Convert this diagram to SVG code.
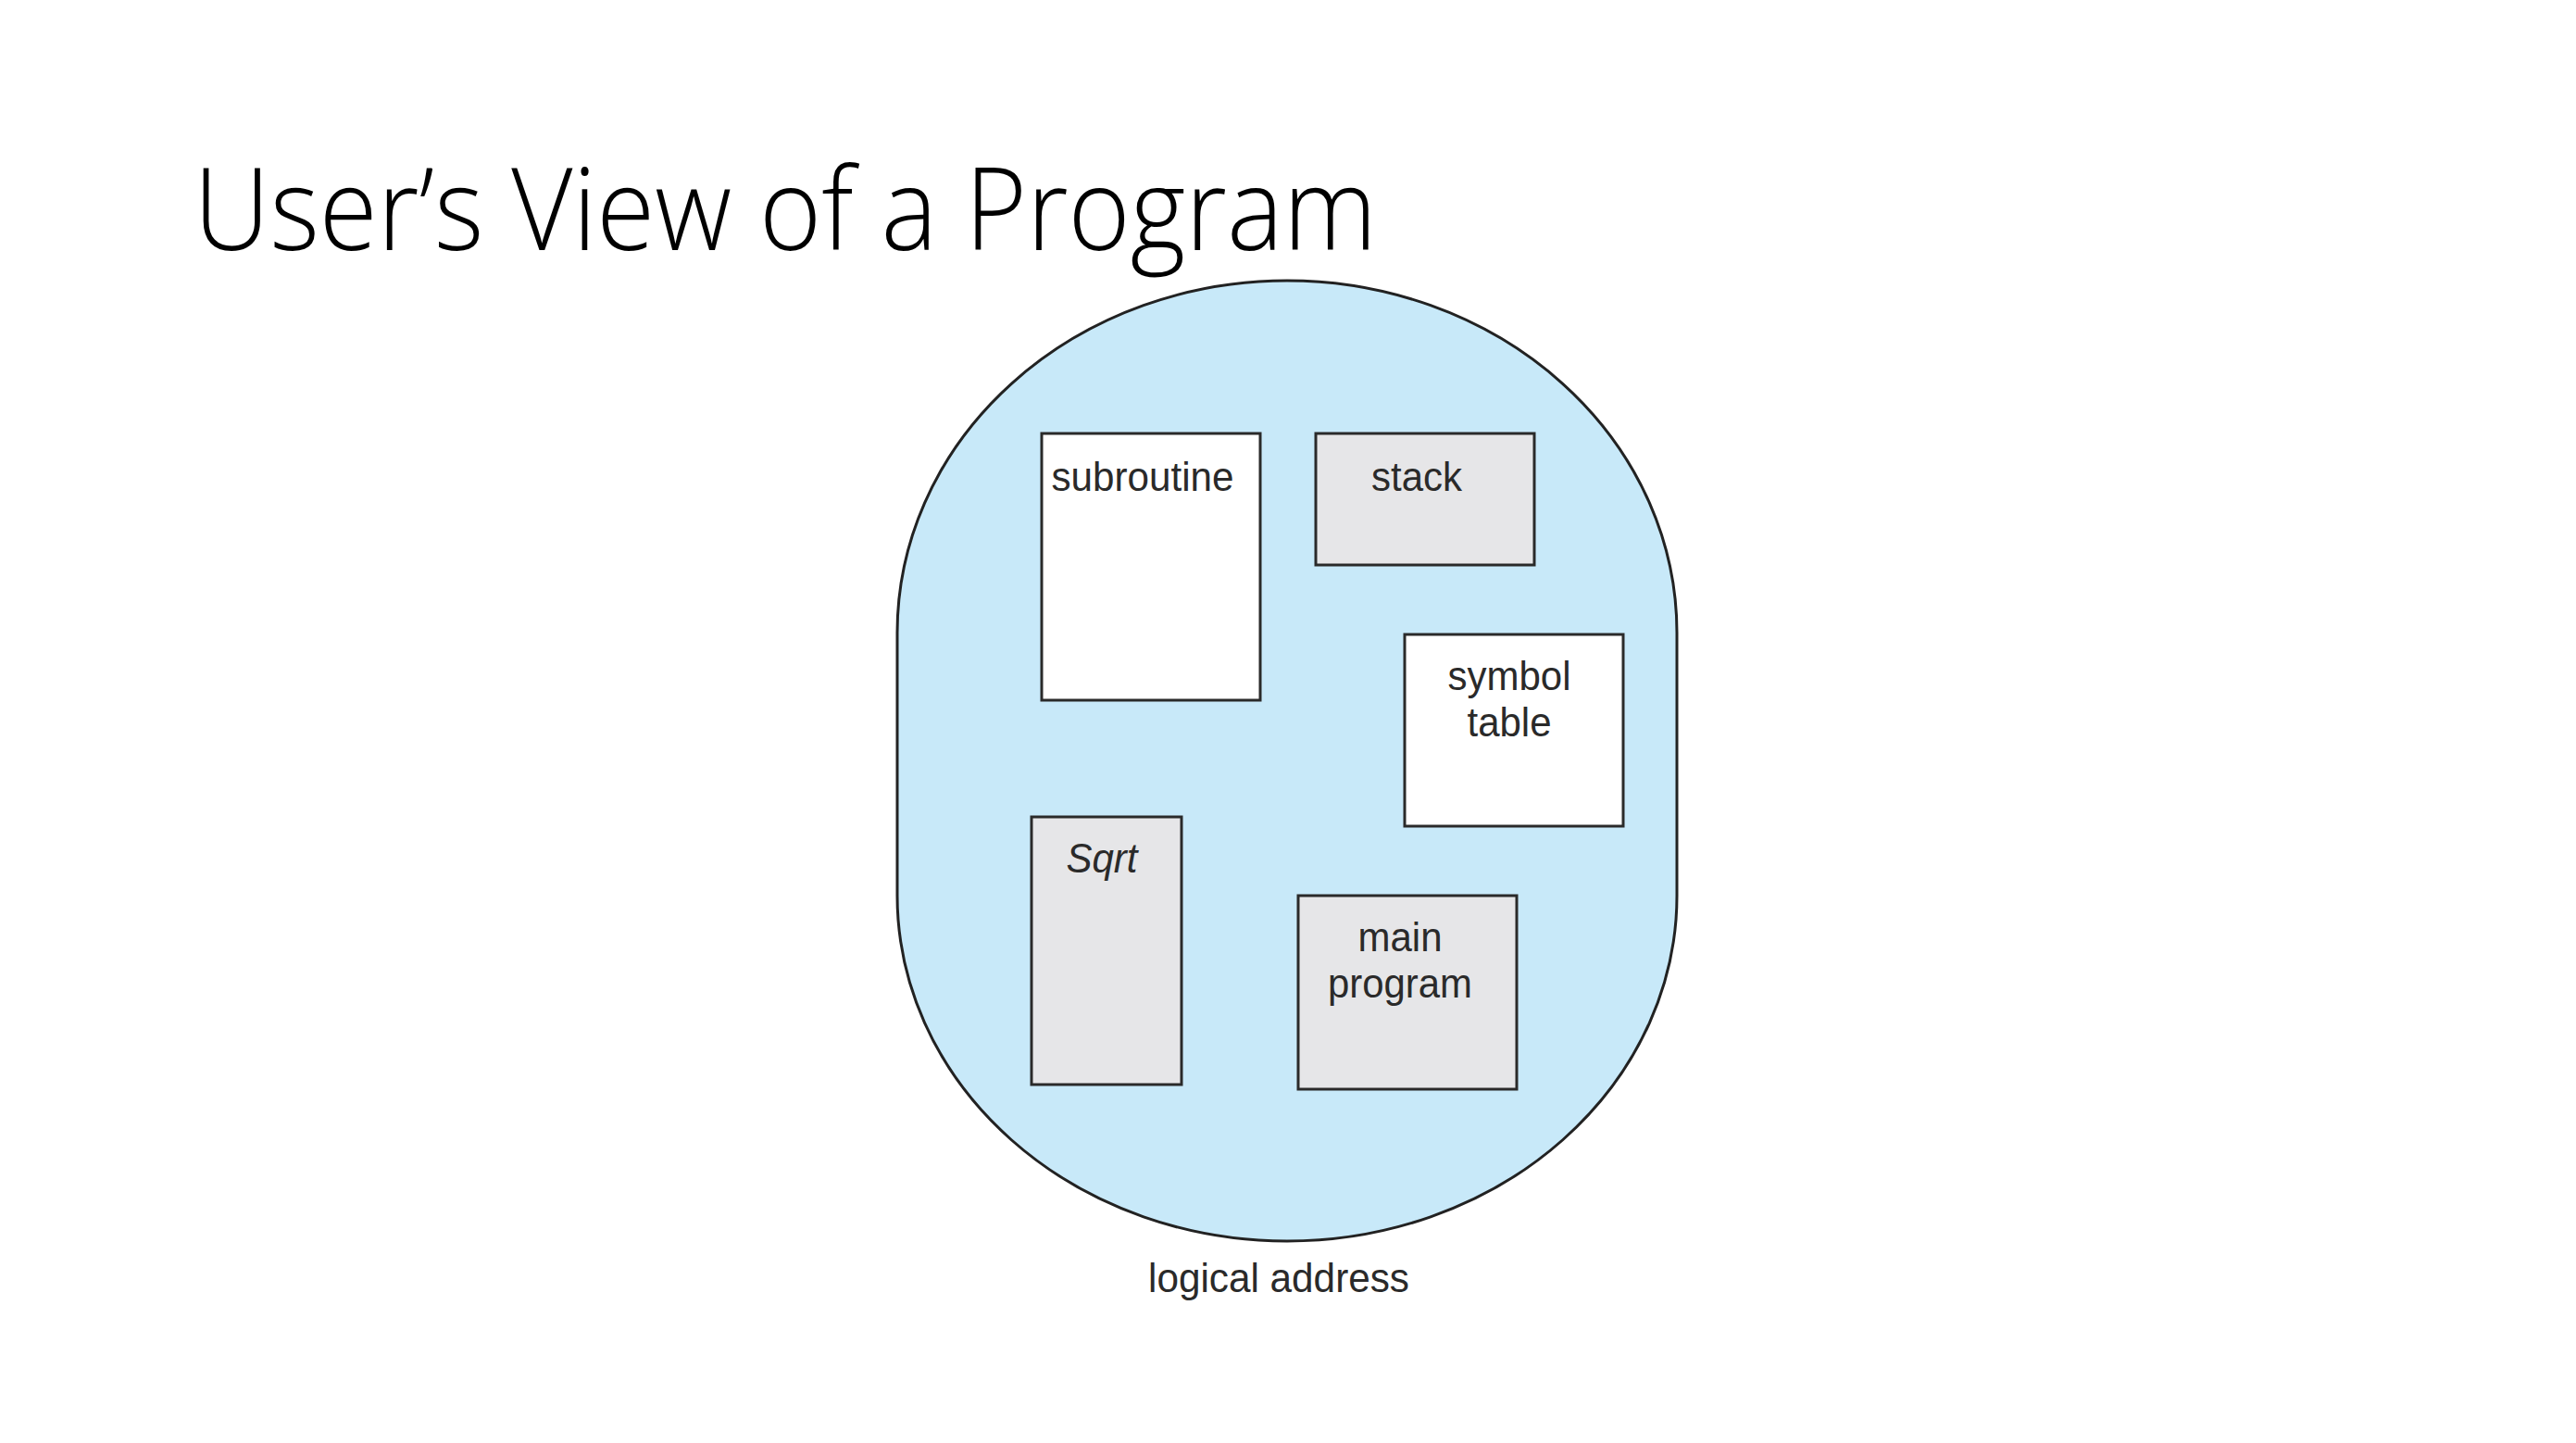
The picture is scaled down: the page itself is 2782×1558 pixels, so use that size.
<svg xmlns="http://www.w3.org/2000/svg" width="2782" height="1558" viewBox="0 0 2782 1558">
<style>
.box{stroke:#2a2a2a;stroke-width:3}
.w{fill:#ffffff}
.g{fill:#e6e6e8}
.lbl{font-family:"Liberation Sans",Arial,sans-serif;font-size:44px;fill:#2a2a2a;text-anchor:middle}
.title{font-family:"Open Sans",sans-serif;font-weight:300;font-size:124px;fill:#000}
</style>
<rect x="0" y="0" width="2782" height="1558" fill="#ffffff"/>
<text class="title" x="209" y="270" textLength="1278" lengthAdjust="spacingAndGlyphs">User’s View of a Program</text>
<g id="logical-address">
<path d="M969,683 A421,380 0 0 1 1811,683 L1811,967 A421,373 0 0 1 969,967 Z" fill="#c8e9f9" stroke="#222" stroke-width="3"/>
<text class="lbl" x="1381" y="1395" textLength="282" lengthAdjust="spacingAndGlyphs">logical address</text>
</g>
<g id="subroutine">
<rect class="box w" x="1125" y="468" width="236" height="288"/>
<text class="lbl" x="1234" y="530" textLength="197" lengthAdjust="spacingAndGlyphs">subroutine</text>
</g>
<g id="stack">
<rect class="box g" x="1421" y="468" width="236" height="142"/>
<text class="lbl" x="1530" y="530" textLength="98" lengthAdjust="spacingAndGlyphs">stack</text>
</g>
<g id="symbol-table">
<rect class="box w" x="1517" y="685" width="236" height="207"/>
<text class="lbl"><tspan x="1630" y="745" textLength="133" lengthAdjust="spacingAndGlyphs">symbol</tspan><tspan x="1630" y="795" textLength="91" lengthAdjust="spacingAndGlyphs">table</tspan></text>
</g>
<g id="sqrt">
<rect class="box g" x="1114" y="882" width="162" height="289"/>
<text class="lbl" x="1190" y="942" font-style="italic" textLength="77" lengthAdjust="spacingAndGlyphs">Sqrt</text>
</g>
<g id="main-program">
<rect class="box g" x="1402" y="967" width="236" height="209"/>
<text class="lbl"><tspan x="1512" y="1027" textLength="91" lengthAdjust="spacingAndGlyphs">main</tspan><tspan x="1512" y="1077" textLength="156" lengthAdjust="spacingAndGlyphs">program</tspan></text>
</g>
<g id="connectors"></g>
</svg>
